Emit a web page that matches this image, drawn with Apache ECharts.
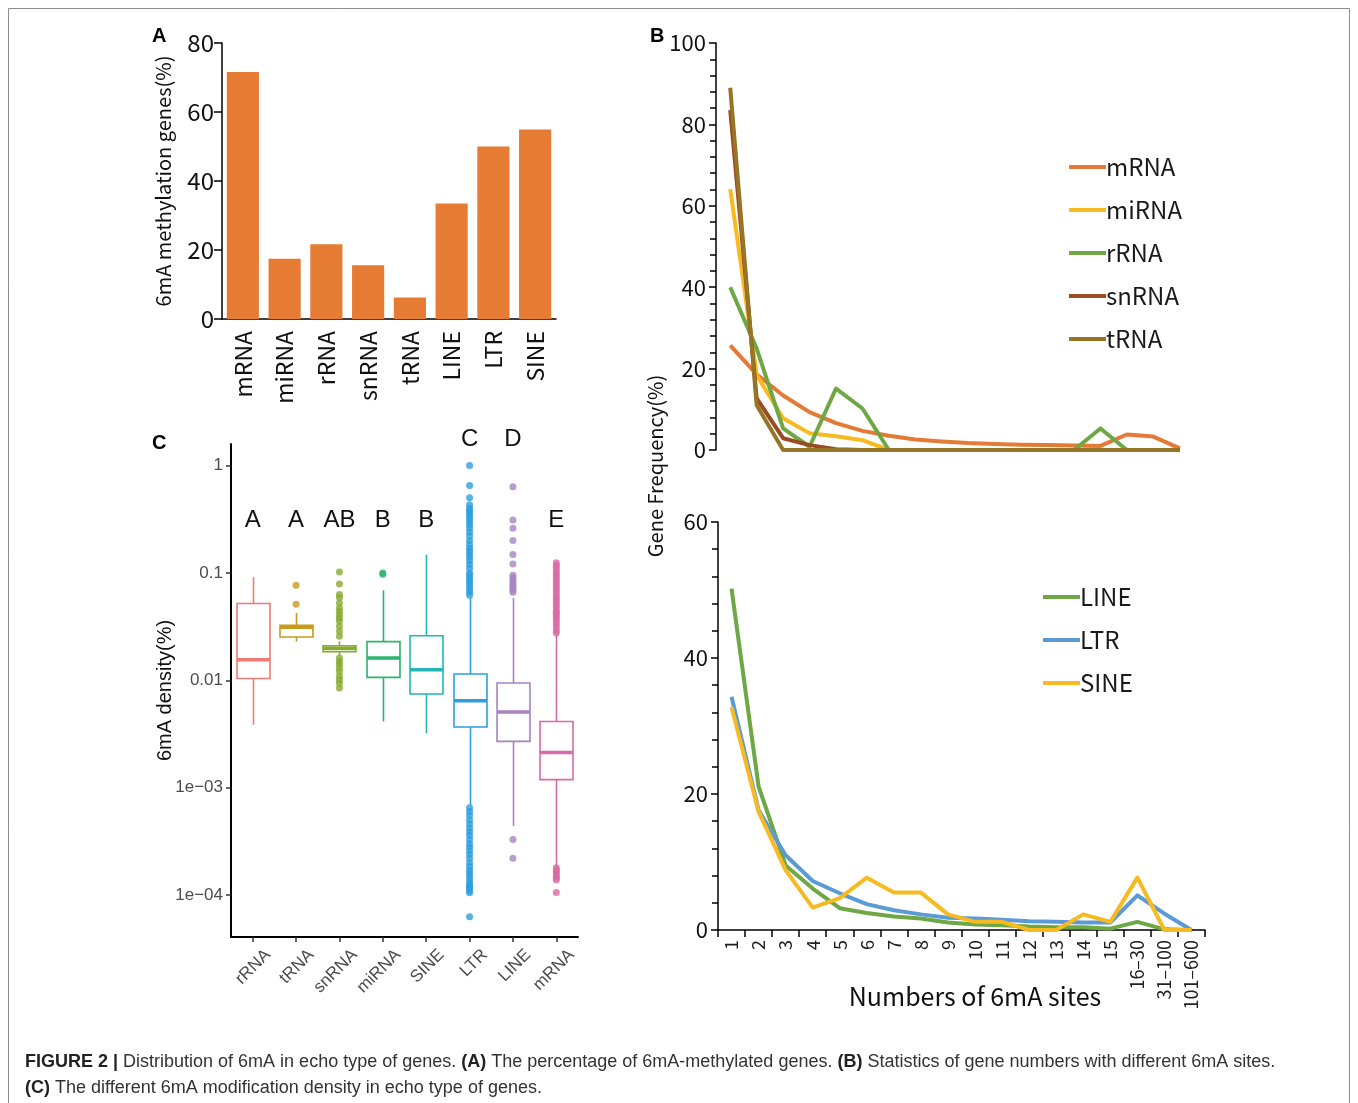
<!DOCTYPE html>
<html>
<head>
<meta charset="utf-8">
<script src="https://cdn.jsdelivr.net/npm/echarts@6/dist/echarts.min.js"></script>
<style>
html,body{margin:0;padding:0;background:#fff}
#main{width:1358px;height:1103px}
</style>
</head>
<body>
<div id="main"></div>
<script>
// ---- panel A: share of methylated genes
var geneTypes = ['mRNA', 'miRNA', 'rRNA', 'snRNA', 'tRNA', 'LINE', 'LTR', 'SINE'];
var methylPct = [71.6, 17.5, 21.7, 15.6, 6.2, 33.5, 50.0, 54.9];

// ---- panel B: gene frequency by number of 6mA sites
var siteBins = ['1', '2', '3', '4', '5', '6', '7', '8', '9', '10', '11', '12', '13', '14', '15', '16–30', '31–100', '101–600'];
var freqMRNA  = [25.7, 18.6, 13.4, 9.3, 6.6, 4.7, 3.5, 2.6, 2.1, 1.7, 1.5, 1.3, 1.2, 1.1, 1.0, 3.8, 3.3, 0.4];
var freqMiRNA = [64.1, 18.4, 7.8, 4.1, 3.4, 2.4, 0, 0, 0, 0, 0, 0, 0, 0, 0, 0, 0, 0];
var freqRRNA  = [40.0, 24.9, 5.3, 0.8, 15.1, 10.2, 0, 0, 0, 0, 0, 0, 0, 0, 5.3, 0, 0, 0];
var freqSnRNA = [83.5, 12.7, 2.9, 1.2, 0.2, 0, 0, 0, 0, 0, 0, 0, 0, 0, 0, 0, 0, 0];
var freqTRNA  = [89.0, 11.0, 0, 0, 0, 0, 0, 0, 0, 0, 0, 0, 0, 0, 0, 0, 0, 0];
var freqLINE  = [50.2, 21.1, 9.5, 6.1, 3.2, 2.5, 2.0, 1.7, 1.1, 0.8, 0.7, 0.5, 0.4, 0.4, 0.2, 1.2, 0.1, 0];
var freqLTR   = [34.3, 17.6, 11.0, 7.2, 5.4, 3.8, 2.9, 2.3, 1.8, 1.7, 1.5, 1.3, 1.2, 1.1, 1.1, 5.1, 2.4, 0];
var freqSINE  = [32.8, 17.4, 8.8, 3.3, 4.7, 7.7, 5.5, 5.5, 2.3, 1.2, 1.2, 0, 0, 2.3, 1.2, 7.7, 0, 0];

// ---- panel C: 6mA density (%), box stats [min, q1, median, q3, max]
var densTypes = ['rRNA', 'tRNA', 'snRNA', 'miRNA', 'SINE', 'LTR', 'LINE', 'mRNA'];
var densBoxes = [
  [0.00385, 0.0104, 0.01556, 0.0518, 0.091],
  [0.0229, 0.0253, 0.0312, 0.0325, 0.0424],
  [0.0171, 0.0185, 0.0199, 0.021, 0.0231],
  [0.00414, 0.01064, 0.0161, 0.0229, 0.0689],
  [0.00323, 0.00745, 0.01256, 0.026, 0.148],
  [0.00069, 0.00367, 0.00646, 0.01146, 0.0585],
  [0.00044, 0.0027, 0.00506, 0.00944, 0.0585],
  [0.000185, 0.00119, 0.00213, 0.00414, 0.0266]
];
var densOutliers = [
  [],
  [0.0767, 0.051],
  [0.102, 0.079, 0.063, 0.059, 0.0525, 0.047, 0.0439, 0.0408, 0.038, 0.0354, 0.0318, 0.0286, 0.0257,
   0.0161, 0.015, 0.014, 0.013, 0.0121, 0.0109, 0.0101, 0.0094, 0.0085],
  [0.1, 0.097],
  [],
  [1.0, 0.65, 0.5, 0.43, 0.4, 0.38, 0.36, 0.34, 0.32, 0.3, 0.28, 0.26, 0.24, 0.22, 0.2, 0.185, 0.17, 0.16,
   0.15, 0.14, 0.13, 0.12, 0.11, 0.1, 0.095, 0.09, 0.085, 0.08, 0.075, 0.07, 0.066, 0.062,
   0.00065, 0.0006, 0.00055, 0.0005, 0.00046, 0.00042, 0.00039, 0.00036, 0.00033, 0.0003, 0.00028,
   0.00026, 0.00024, 0.00022, 0.0002, 0.000185, 0.00017, 0.00016, 0.00015, 0.00014, 0.00013,
   0.000125, 0.00012, 0.000115, 0.00011, 0.000105, 0.000063],
  [0.633, 0.31, 0.26, 0.2, 0.148, 0.121, 0.095, 0.09, 0.086, 0.082, 0.078, 0.075, 0.072, 0.069, 0.066,
   0.00033, 0.00022],
  [0.124, 0.118, 0.112, 0.106, 0.1, 0.095, 0.09, 0.085, 0.08, 0.076, 0.072, 0.068, 0.064, 0.06, 0.057,
   0.054, 0.051, 0.048, 0.045, 0.043, 0.041, 0.039, 0.037, 0.035, 0.033, 0.031, 0.029, 0.0275,
   0.00018, 0.000172, 0.000165, 0.000158, 0.00015, 0.000144, 0.000138, 0.000106]
];
var groupLetters = ['A', 'A', 'AB', 'B', 'B', 'C', 'D', 'E'];
var letterLevel = [0.307, 0.307, 0.307, 0.307, 0.307, 1.75, 1.75, 0.307];
var densTickVals = [1e-4, 1e-3, 0.01, 0.1, 1];
var densTickText = ['1e\u221204', '1e\u221203', '0.01', '0.1', '1'];

var boxColors = ['#EE7C73', '#C99A1E', '#86AB2F', '#2DB36E', '#23B5B6', '#2E9FDB', '#A784C2', '#DA6AA5'];
var cjk = '"Noto Sans CJK SC", "Noto Sans", sans-serif';
var arial = '"Liberation Sans", Arial, sans-serif';

var myChart = echarts.init(document.getElementById('main'));

function lg(v) { return Math.log10(v); }

var boxData = densBoxes.map(function (b, i) {
  return [i, lg(b[0]), lg(b[1]), lg(b[2]), lg(b[3]), lg(b[4])];
});
var outData = [];
densOutliers.forEach(function (arr, i) {
  arr.forEach(function (v) {
    outData.push({ value: [i, lg(v)], itemStyle: { color: boxColors[i] } });
  });
});

function renderBox(params, api) {
  var i = api.value(0);
  var lo = api.coord([i, api.value(1)]);
  var q1 = api.coord([i, api.value(2)]);
  var md = api.coord([i, api.value(3)]);
  var q3 = api.coord([i, api.value(4)]);
  var hi = api.coord([i, api.value(5)]);
  var w = api.size([1, 0])[0] * 0.76;
  var c = boxColors[params.dataIndex];
  var x = Math.round(q1[0]) + 0.5;
  return {
    type: 'group',
    children: [
      { type: 'line', shape: { x1: x, y1: hi[1], x2: x, y2: q3[1] }, style: { stroke: c, lineWidth: 1.6 } },
      { type: 'line', shape: { x1: x, y1: q1[1], x2: x, y2: lo[1] }, style: { stroke: c, lineWidth: 1.6 } },
      { type: 'rect', shape: { x: x - w / 2, y: q3[1], width: w, height: q1[1] - q3[1] },
        style: { stroke: c, fill: '#fff', lineWidth: 1.6 } },
      { type: 'line', shape: { x1: x - w / 2, y1: md[1], x2: x + w / 2, y2: md[1] },
        style: { stroke: c, lineWidth: 3.5 } }
    ]
  };
}

var blackLine = { show: true, lineStyle: { color: '#000', width: 1.5 } };

function lineSeries(name, data, color, idx) {
  return {
    name: name, type: 'line', data: data, xAxisIndex: idx, yAxisIndex: idx,
    symbol: 'none', color: color,
    lineStyle: { width: 4, color: color, join: 'round' }
  };
}

var legendText = { fontSize: 24, color: '#1a1a1a', fontFamily: cjk, padding: [0, 0, 0, -5] };

var option = {
  animation: false,
  legend: [
    {
      data: ['mRNA', 'miRNA', 'rRNA', 'snRNA', 'tRNA'],
      orient: 'vertical', left: 1064, top: 150, icon: 'rect',
      itemWidth: 37, itemHeight: 4, itemGap: 19, selectedMode: false,
      textStyle: legendText
    },
    {
      data: ['LINE', 'LTR', 'SINE'],
      orient: 'vertical', left: 1038, top: 580, icon: 'rect',
      itemWidth: 37, itemHeight: 4, itemGap: 19, selectedMode: false,
      textStyle: legendText
    }
  ],
  grid: [
    { left: 222, top: 43, width: 334, height: 276 },
    { left: 717, top: 43, width: 476, height: 407 },
    { left: 718, top: 522, width: 487, height: 408 },
    { left: 231, top: 444, width: 347, height: 493 }
  ],
  xAxis: [
    {
      gridIndex: 0, type: 'category', data: geneTypes,
      axisLine: blackLine, axisTick: { show: false },
      axisLabel: { rotate: 90, fontSize: 23, color: '#111', fontFamily: cjk, margin: 12 }
    },
    {
      gridIndex: 1, type: 'category', data: siteBins, show: false
    },
    {
      gridIndex: 2, type: 'category', data: siteBins,
      axisLine: blackLine,
      axisTick: { show: true, length: 7, lineStyle: { color: '#000', width: 1.5 } },
      axisLabel: { rotate: 90, fontSize: 18, color: '#222', fontFamily: cjk, margin: 10, interval: 0 }
    },
    {
      gridIndex: 3, type: 'category', data: densTypes,
      axisLine: { show: true, onZero: false, lineStyle: { color: '#000', width: 2 } },
      axisTick: { show: true, alignWithLabel: true, length: 5, lineStyle: { color: '#333', width: 1.5 } },
      axisLabel: {
        rotate: 45, fontSize: 17, color: '#4d4d4d', fontFamily: arial, margin: 0, interval: 0,
        verticalAlign: 'top', padding: [13, 0, 0, 0]
      }
    }
  ],
  yAxis: [
    {
      gridIndex: 0, type: 'value', min: 0, max: 80, interval: 20,
      axisLine: blackLine,
      axisTick: { show: true, length: 8, lineStyle: { color: '#000', width: 1.5 } },
      splitLine: { show: false },
      axisLabel: { fontSize: 24, color: '#111', fontFamily: cjk, margin: 8 },
      name: '6mA methylation genes(%)', nameLocation: 'middle', nameGap: 49,
      nameTextStyle: { fontSize: 20, color: '#111', fontFamily: cjk }
    },
    {
      gridIndex: 1, type: 'value', min: 0, max: 100, interval: 20, offset: 1,
      axisLine: blackLine,
      axisTick: { show: true, length: 7, lineStyle: { color: '#000', width: 1.5 } },
      minorTick: { show: true, splitNumber: 5, length: 6, lineStyle: { color: '#000', width: 1.5 } },
      splitLine: { show: false },
      axisLabel: { fontSize: 22, color: '#111', fontFamily: cjk, margin: 10 }
    },
    {
      gridIndex: 2, type: 'value', min: 0, max: 60, interval: 20,
      axisLine: blackLine,
      axisTick: { show: true, length: 7, lineStyle: { color: '#000', width: 1.5 } },
      minorTick: { show: true, splitNumber: 5, length: 6, lineStyle: { color: '#000', width: 1.5 } },
      splitLine: { show: false },
      axisLabel: { fontSize: 22, color: '#111', fontFamily: cjk, margin: 10 }
    },
    {
      gridIndex: 3, type: 'value', min: -4.39, max: 0.2,
      axisLine: { show: true, onZero: false, lineStyle: { color: '#000', width: 2 } },
      axisTick: { show: true, length: 5, lineStyle: { color: '#333', width: 1.5 },
        customValues: densTickVals.map(lg) },
      splitLine: { show: false },
      axisLabel: {
        fontSize: 17, color: '#4d4d4d', fontFamily: arial, margin: 8,
        customValues: densTickVals.map(lg),
        formatter: function (v) {
          var k = Math.round(v) + 4;
          return densTickText[k];
        }
      },
      name: '6mA density(%)', nameLocation: 'middle', nameGap: 56, nameMoveOverlap: false,
      nameTextStyle: { fontSize: 20, color: '#111', fontFamily: arial }
    }
  ],
  series: [
    {
      type: 'bar', data: methylPct, xAxisIndex: 0, yAxisIndex: 0,
      barCategoryGap: '23%', itemStyle: { color: '#E67C34' }
    },
    lineSeries('mRNA', freqMRNA, '#E57A36', 1),
    lineSeries('miRNA', freqMiRNA, '#F7BA21', 1),
    lineSeries('rRNA', freqRRNA, '#6EA845', 1),
    lineSeries('snRNA', freqSnRNA, '#9C4A22', 1),
    lineSeries('tRNA', freqTRNA, '#967626', 1),
    lineSeries('LINE', freqLINE, '#6EA845', 2),
    lineSeries('LTR', freqLTR, '#5B9BD5', 2),
    lineSeries('SINE', freqSINE, '#F7BA21', 2),
    {
      name: 'densityBox', type: 'custom', xAxisIndex: 3, yAxisIndex: 3,
      renderItem: renderBox, data: boxData,
      encode: { x: 0, y: [1, 2, 3, 4, 5] }
    },
    {
      name: 'densityOutlier', type: 'scatter', xAxisIndex: 3, yAxisIndex: 3,
      symbolSize: 7, data: outData, z: 3
    }
  ]
};

myChart.setOption(option);

// panel letters, names, caption and frame
var capFont = '"Liberation Sans Narrow", "Liberation Sans", sans-serif';
var graphics = [
  { type: 'rect', id: 'frame', shape: { x: 8.5, y: 8.5, width: 1341, height: 1120 },
    style: { fill: 'none', stroke: '#8c8c8c', lineWidth: 1 }, silent: true },
  { type: 'text', id: 'pA', x: 152, y: 26, style: { text: 'A', font: 'bold 20px ' + arial, fill: '#000' } },
  { type: 'text', id: 'pB', x: 650, y: 26, style: { text: 'B', font: 'bold 20px ' + arial, fill: '#000' } },
  { type: 'text', id: 'pC', x: 152, y: 433, style: { text: 'C', font: 'bold 20px ' + arial, fill: '#000' } },
  { type: 'text', id: 'gfName', x: 655, y: 466, rotation: Math.PI / 2,
    style: { text: 'Gene Frequency(%)', font: '20px ' + cjk, fill: '#111', align: 'center', verticalAlign: 'middle' } },
  { type: 'text', id: 'sitesName', x: 975, y: 996,
    style: { text: 'Numbers of 6mA sites', font: '25px ' + cjk, fill: '#111', align: 'center', verticalAlign: 'middle' } },
  { type: 'text', id: 'cap1', x: 25, y: 1062,
    style: {
      text: '{b|FIGURE 2 |} Distribution of 6mA in echo type of genes. {b|(A)} The percentage of 6mA-methylated genes. {b|(B)} Statistics of gene numbers with different 6mA sites.',
      font: '18px ' + capFont, fill: '#333', verticalAlign: 'middle',
      rich: { b: { fontWeight: 'bold', fontSize: 18, fontFamily: capFont, fill: '#222' } }
    } },
  { type: 'text', id: 'cap2', x: 25, y: 1088,
    style: {
      text: '{b|(C)} The different 6mA modification density in echo type of genes.',
      font: '18px ' + capFont, fill: '#333', verticalAlign: 'middle',
      rich: { b: { fontWeight: 'bold', fontSize: 18, fontFamily: capFont, fill: '#222' } }
    } }
];
groupLetters.forEach(function (t, i) {
  var p = myChart.convertToPixel({ gridIndex: 3 }, [i, lg(letterLevel[i])]);
  graphics.push({ type: 'text', id: 'let' + i, x: p[0], y: p[1],
    style: { text: t, font: '24px ' + arial, fill: '#111', align: 'center', verticalAlign: 'middle' } });
});
myChart.setOption({ graphic: graphics });
</script>
</body>
</html>
